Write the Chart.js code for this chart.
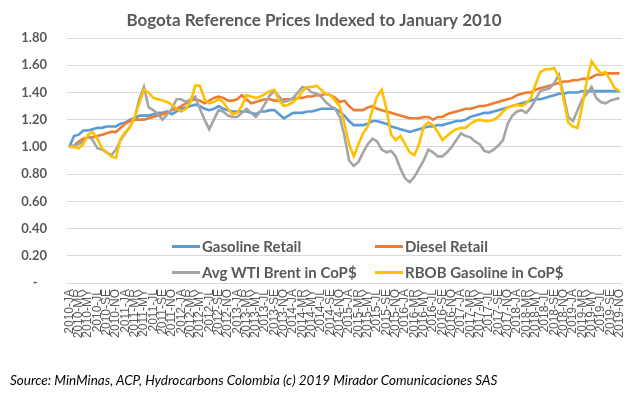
<!DOCTYPE html>
<html>
<head>
<meta charset="utf-8">
<title>Bogota Reference Prices</title>
<script src="https://cdn.jsdelivr.net/npm/chart.js@4.4.0/dist/chart.umd.min.js"></script>
<style>
  html, body { margin: 0; padding: 0; background: #fff; }
  #wrap { position: relative; width: 640px; height: 395px; }
  .legend-item {
    position: absolute; height: 16px; line-height: 16px;
    font: bold 15px Lato, sans-serif; color: #595959;
    display: flex; align-items: center; white-space: nowrap;
  }
  .legend-item .swatch { display: inline-block; width: 28px; height: 3px; margin-right: 2px; }
  #source {
    position: absolute; left: 10px; top: 372px;
    font: italic 13.5px Lato, sans-serif; color: #000; white-space: nowrap;
  }
</style>
</head>
<body>
<div id="wrap">
  <canvas id="priceChart"></canvas>
  <div id="legend"></div>
  <div id="source">Source: MinMinas, ACP, Hydrocarbons Colombia (c) 2019 Mirador Comunicaciones SAS</div>
</div>
<script>
// === Axis labels ===
const YEARS = [2010, 2011, 2012, 2013, 2014, 2015, 2016, 2017, 2018, 2019];
const MONTH_CODES = ['JA', 'FE', 'MR', 'AP', 'MY', 'JN', 'JL', 'AU', 'SE', 'OC', 'NO', 'DE'];
const MONTH_COUNT = 119; // Jan 2010 .. Nov 2019

// === Series (index, Jan 2010 = 1.00) ===
const gasolineRetail = [
  1.00, 1.08, 1.09, 1.12, 1.12, 1.13, 1.14, 1.14, 1.15, 1.15, 1.15, 1.17,
  1.18, 1.20, 1.21, 1.23, 1.23, 1.23, 1.24, 1.25, 1.25, 1.26, 1.24, 1.26,
  1.28, 1.29, 1.30, 1.31, 1.30, 1.28, 1.27, 1.28, 1.30, 1.28, 1.27, 1.26,
  1.26, 1.26, 1.26, 1.25, 1.24, 1.26, 1.26, 1.27, 1.27, 1.24, 1.21, 1.23,
  1.25, 1.25, 1.25, 1.26, 1.26, 1.27, 1.28, 1.28, 1.28, 1.28, 1.26, 1.23,
  1.19, 1.16, 1.16, 1.16, 1.17, 1.19, 1.19, 1.18, 1.17, 1.15, 1.14, 1.13,
  1.12, 1.11, 1.12, 1.13, 1.14, 1.15, 1.15, 1.16, 1.16, 1.17, 1.18, 1.19,
  1.19, 1.20, 1.22, 1.23, 1.24, 1.25, 1.25, 1.26, 1.27, 1.28, 1.29, 1.30,
  1.31, 1.32, 1.33, 1.34, 1.35, 1.35, 1.36, 1.37, 1.38, 1.39, 1.39, 1.40,
  1.40, 1.40, 1.41, 1.41, 1.41, 1.41, 1.41, 1.41, 1.41, 1.41, 1.41
];
const dieselRetail = [
  1.00, 1.01, 1.04, 1.06, 1.07, 1.07, 1.08, 1.09, 1.10, 1.11, 1.11, 1.14,
  1.17, 1.19, 1.20, 1.20, 1.20, 1.21, 1.22, 1.23, 1.24, 1.25, 1.27, 1.28,
  1.30, 1.32, 1.34, 1.35, 1.34, 1.32, 1.34, 1.36, 1.37, 1.36, 1.34, 1.34,
  1.35, 1.38, 1.35, 1.32, 1.33, 1.34, 1.35, 1.35, 1.34, 1.34, 1.35, 1.35,
  1.35, 1.36, 1.36, 1.37, 1.37, 1.38, 1.38, 1.39, 1.38, 1.36, 1.33, 1.34,
  1.30, 1.27, 1.27, 1.27, 1.29, 1.30, 1.28, 1.27, 1.26, 1.25, 1.24, 1.23,
  1.22, 1.21, 1.21, 1.21, 1.22, 1.22, 1.20, 1.22, 1.22, 1.24, 1.25, 1.26,
  1.27, 1.28, 1.28, 1.29, 1.30, 1.30, 1.31, 1.32, 1.33, 1.34, 1.35, 1.36,
  1.38, 1.39, 1.40, 1.40, 1.42, 1.43, 1.44, 1.45, 1.46, 1.47, 1.48, 1.48,
  1.49, 1.49, 1.50, 1.50, 1.51, 1.53, 1.53, 1.54, 1.54, 1.54, 1.54
];
const wtiBrent = [
  1.00, 1.01, 1.02, 1.04, 1.08, 1.05, 0.99, 0.98, 0.96, 0.94, 0.98, 1.05,
  1.10, 1.15, 1.21, 1.35, 1.44, 1.29, 1.27, 1.24, 1.20, 1.24, 1.28, 1.35,
  1.35, 1.33, 1.35, 1.37, 1.28, 1.20, 1.13, 1.20, 1.27, 1.26, 1.23, 1.22,
  1.22, 1.25, 1.28, 1.25, 1.22, 1.26, 1.32, 1.38, 1.41, 1.37, 1.33, 1.34,
  1.36, 1.40, 1.44, 1.43, 1.40, 1.39, 1.37, 1.33, 1.30, 1.28, 1.22, 1.08,
  0.90, 0.86, 0.89, 0.96, 1.02, 1.06, 1.04, 0.98, 0.96, 0.97, 0.93, 0.84,
  0.77, 0.74, 0.78, 0.84, 0.90, 0.98, 0.96, 0.93, 0.93, 0.96, 1.00, 1.05,
  1.10, 1.08, 1.07, 1.04, 1.02, 0.97, 0.96, 0.98, 1.01, 1.05, 1.17, 1.23,
  1.26, 1.27, 1.25, 1.29, 1.35, 1.41, 1.42, 1.43, 1.47, 1.53, 1.38, 1.22,
  1.19, 1.27, 1.35, 1.39, 1.44, 1.36, 1.33, 1.32, 1.34, 1.35, 1.36
];
const rbobGasoline = [
  1.00, 1.00, 0.99, 1.02, 1.09, 1.11, 1.06, 0.99, 0.96, 0.93, 0.92, 1.06,
  1.11, 1.14, 1.22, 1.32, 1.42, 1.40, 1.36, 1.35, 1.34, 1.33, 1.31, 1.28,
  1.26, 1.28, 1.33, 1.45, 1.45, 1.35, 1.32, 1.33, 1.35, 1.33, 1.28, 1.24,
  1.25, 1.30, 1.38, 1.37, 1.36, 1.37, 1.39, 1.41, 1.42, 1.34, 1.30, 1.31,
  1.33, 1.36, 1.41, 1.44, 1.44, 1.45, 1.42, 1.39, 1.38, 1.34, 1.30, 1.17,
  1.02, 0.93, 1.02, 1.10, 1.15, 1.27, 1.37, 1.42, 1.28, 1.09, 1.05, 1.08,
  1.02, 0.96, 0.94, 1.02, 1.15, 1.18, 1.16, 1.11, 1.05, 1.08, 1.11, 1.13,
  1.14, 1.14, 1.17, 1.19, 1.20, 1.19, 1.19, 1.20, 1.22, 1.26, 1.29, 1.30,
  1.31, 1.30, 1.32, 1.36, 1.46, 1.55, 1.57, 1.57, 1.58, 1.51, 1.35, 1.18,
  1.15, 1.14, 1.30, 1.49, 1.63, 1.58, 1.54, 1.55, 1.49, 1.43, 1.41
];

const monthLabels = YEARS.flatMap(y => MONTH_CODES.map(m => `${y}-${m}`)).slice(0, MONTH_COUNT);

// === Look ===
const GREY_TEXT = '#595959';
const GRID = '#d9d9d9';
// legend sits inside the plot, 2 x 2
const LEGEND_SLOTS = [[172, 238], [375, 238], [172, 264], [375, 264]];

function series(label, data, color, order) {
  return {
    label, data, order,
    borderColor: color, backgroundColor: color,
    borderWidth: 2.6, pointRadius: 0, tension: 0, fill: false
  };
}

const chart = new Chart(document.getElementById('priceChart'), {
  type: 'line',
  data: {
    labels: monthLabels,
    datasets: [
      series('Gasoline Retail', gasolineRetail, '#5B9BD5', 3),
      series('Diesel Retail', dieselRetail, '#ED7D31', 2),
      series('Avg WTI Brent in CoP$', wtiBrent, '#A5A5A5', 1),
      series('RBOB Gasoline in CoP$', rbobGasoline, '#FFC000', 0)
    ]
  },
  options: {
    responsive: true,
    maintainAspectRatio: false,
    animation: false,
    layout: { padding: { left: 0, right: 12, top: 0, bottom: 0 } },
    plugins: {
      legend: { display: false },
      tooltip: { enabled: false },
      title: {
        display: true,
        text: 'Bogota Reference Prices Indexed to January 2010',
        color: GREY_TEXT,
        font: { family: 'Lato', size: 17, weight: 'bold' },
        padding: { top: 10, bottom: 7.6 }
      }
    },
    scales: {
      x: {
        offset: true,
        grid: { display: false, drawTicks: false },
        border: { display: false },
        afterFit: s => { s.height = 112; },
        ticks: {
          autoSkip: false,
          minRotation: 90,
          maxRotation: 90,
          padding: 6,
          color: GREY_TEXT,
          font: { family: 'Liberation Sans', size: 12 },
          callback: (v, i) => (i % 2 === 0 ? monthLabels[i] : '')
        }
      },
      y: {
        min: 0,
        max: 1.8,
        grid: { color: GRID, lineWidth: 1, drawTicks: false },
        border: { display: false },
        afterFit: s => { s.width = 67; },
        ticks: {
          stepSize: 0.2,
          padding: 20,
          color: GREY_TEXT,
          font: { family: 'Lato', size: 13, weight: 'bold' },
          callback: v => (Math.abs(v) < 1e-9 ? '-   ' : Number(v).toFixed(2))
        }
      }
    }
  }
});

// === Legend (HTML, inside plot area) ===
const legend = document.getElementById('legend');
chart.data.datasets.forEach((ds, i) => {
  const [x, y] = LEGEND_SLOTS[i];
  const item = document.createElement('div');
  item.className = 'legend-item';
  item.style.left = x + 'px';
  item.style.top = y + 'px';
  item.innerHTML = `<span class="swatch" style="background:${ds.borderColor}"></span>${ds.label}`;
  legend.appendChild(item);
});
</script>
</body>
</html>
